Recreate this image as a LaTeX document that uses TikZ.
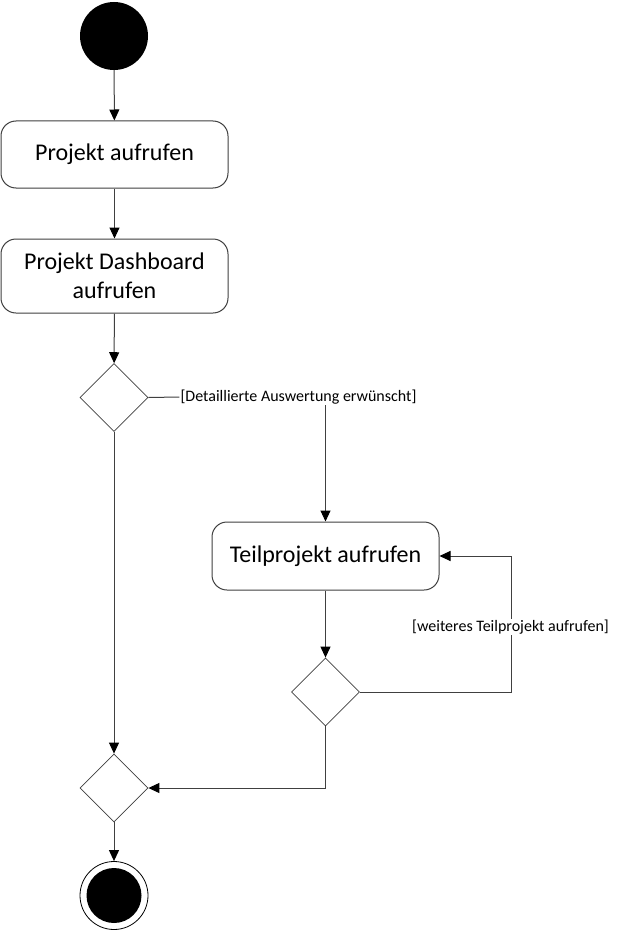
\documentclass[tikz,border=0pt]{standalone}
\usepackage{fontspec}
\setmainfont{Carlito}
\usetikzlibrary{shapes.geometric,arrows.meta}
\definecolor{lc}{HTML}{404040}
\begin{document}
\begin{tikzpicture}[x=1pt,y=-1pt,
  every node/.style={font=\fontsize{24}{29}\selectfont},
  act/.style={draw=lc,line width=1pt,rounded corners=15pt,minimum width=227pt,align=center,inner sep=0pt},
  dec/.style={draw=lc,line width=0.8pt,diamond,aspect=1,minimum width=68pt,minimum height=68pt,inner sep=0pt},
  lbl/.style={font=\fontsize{16}{19}\selectfont,inner sep=1pt},
  flow/.style={draw=lc,line width=1pt,-{Triangle[length=11pt,width=10pt,fill=black,color=black]}},
  plain/.style={draw=lc,line width=1pt}]
\useasboundingbox[fill=white] (0,0) rectangle (618,931);
\node[circle,fill=black,minimum size=68pt,inner sep=0pt] (start) at (114,36) {};
\node[act,minimum height=67pt] (a1) at (114.5,154.5) {Projekt aufrufen};
\node[act,minimum height=74pt] (a2) at (114.5,276) {Projekt Dashboard\\aufrufen};
\node[dec] (d1) at (114,397.5) {};
\node[lbl] (l1) at (298.5,397) {[Detaillierte Auswertung erwünscht]};
\node[act,minimum height=68pt] (a3) at (325.5,556) {Teilprojekt aufrufen};
\node[dec] (d2) at (325.5,692) {};
\coordinate (lc1) at (511,692);
\node[dec] (d3) at (114,788) {};
\node[circle,draw=black,line width=0.8pt,minimum size=68pt,inner sep=0pt] (end) at (114,895.5) {};
\fill[black] (end.center) circle (27.5pt);
\draw[flow] (start) -- (a1);
\draw[flow] (a1) -- (a2);
\draw[flow] (a2) -- (d1);
\draw[plain] (d1.east) -- (l1.west);
\draw[flow] (l1.south -| a3.north) -- (a3.north);
\draw[flow] (a3) -- (d2);
\draw[flow] (d2.east) -- (lc1) |- (a3.east);
\node[lbl,fill=white] (l2) at (510.5,627) {[weiteres Teilprojekt aufrufen]};
\draw[flow] (d2.south) |- (d3.east);
\draw[flow] (d1.south) -- (d3.north);
\draw[flow] (d3) -- (end);
\end{tikzpicture}
\end{document}
